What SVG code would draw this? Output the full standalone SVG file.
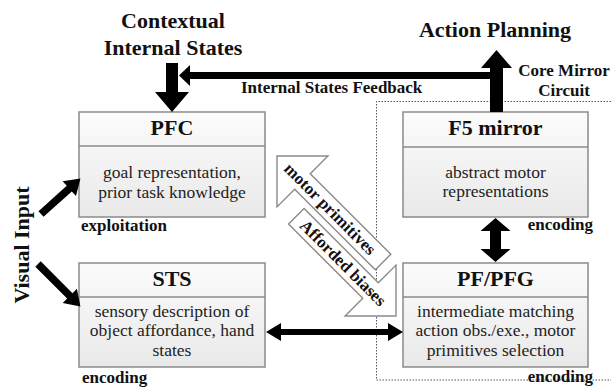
<svg xmlns="http://www.w3.org/2000/svg" width="611" height="391" viewBox="0 0 611 391" font-family="'Liberation Serif', 'Times New Roman', Tinos, 'DejaVu Serif', serif">
  <defs>
    <linearGradient id="boxFill" x1="0" y1="0" x2="0" y2="1">
      <stop offset="0" stop-color="#fcfcfc"/>
      <stop offset="1" stop-color="#e9e9e9"/>
    </linearGradient>
    <style>
      .box { fill: url(#boxFill); stroke: #8a8a8a; stroke-width: 1.5; }
      .div { stroke: #8a8a8a; stroke-width: 1.5; }
      .head { font-weight: bold; font-size: 22px; fill: #111; text-anchor: middle; }
      .body { font-size: 17.5px; fill: #222; text-anchor: middle; }
      .title { font-weight: bold; font-size: 22px; fill: #111; text-anchor: middle; }
      .lbl { font-weight: bold; font-size: 17px; fill: #111; }
      .solid { fill: #000; }
      .hollow { fill: #fff; stroke: #8a8a8a; stroke-width: 1.4; stroke-linejoin: miter; }
      .dots { fill: none; stroke: #555; stroke-width: 1; stroke-dasharray: 1.5 1.5; }
    </style>
  </defs>

  <rect width="611" height="391" fill="#fff"/>

  <!-- core mirror circuit region -->
  <path class="dots" d="M611 101.5 H376.5 V380"/>
  <path class="dots" d="M376.5 380 H611"/>

  <!-- titles and free labels -->
  <text class="title" x="173" y="28">Contextual</text>
  <text class="title" x="173" y="55">Internal States</text>
  <text class="title" x="495" y="37">Action Planning</text>
  <text class="lbl" x="564" y="76" text-anchor="middle">Core Mirror</text>
  <text class="lbl" x="564" y="96" text-anchor="middle">Circuit</text>
  <text class="lbl" x="241" y="93">Internal States Feedback</text>
  <text class="title" transform="translate(29,245) rotate(-90)" x="0" y="0">Visual Input</text>

  <!-- nodes -->
  <g id="pfc">
    <rect class="box" x="79" y="112" width="186" height="105"/>
    <line class="div" x1="79" y1="146" x2="265" y2="146"/>
    <text class="head" x="172" y="135">PFC</text>
    <text class="body" x="172" y="178">goal representation,</text>
    <text class="body" x="172" y="198">prior task knowledge</text>
    <text class="lbl" x="81" y="231">exploitation</text>
  </g>

  <g id="sts">
    <rect class="box" x="79" y="263" width="186" height="104"/>
    <line class="div" x1="79" y1="297" x2="265" y2="297"/>
    <text class="head" x="172" y="286">STS</text>
    <text class="body" x="172" y="317">sensory description of</text>
    <text class="body" x="172" y="336">object affordance, hand</text>
    <text class="body" x="172" y="356">states</text>
    <text class="lbl" x="82" y="383">encoding</text>
  </g>

  <g id="f5">
    <rect class="box" x="403" y="112" width="185" height="105"/>
    <line class="div" x1="403" y1="147" x2="588" y2="147"/>
    <text class="head" x="495.5" y="135">F5 mirror</text>
    <text class="body" x="495.5" y="178">abstract motor</text>
    <text class="body" x="495.5" y="197">representations</text>
    <text class="lbl" x="593" y="230" text-anchor="end">encoding</text>
  </g>

  <g id="pfpfg">
    <rect class="box" x="403" y="263" width="185" height="104"/>
    <line class="div" x1="403" y1="297" x2="588" y2="297"/>
    <text class="head" x="495.5" y="286">PF/PFG</text>
    <text class="body" x="495.5" y="317">intermediate matching</text>
    <text class="body" x="495.5" y="336">action obs./exe., motor</text>
    <text class="body" x="495.5" y="356">primitives selection</text>
    <text class="lbl" x="593" y="382" text-anchor="end">encoding</text>
  </g>

  <!-- connectors -->
  <g id="connectors">
    <!-- contextual states into PFC -->
    <polygon class="solid" points="166,63 178,63 178,92 189,92 172,112 155,92 166,92"/>
    <!-- internal states feedback from F5 -->
    <polygon class="solid" points="497,72 497,79 190,79 190,86 179,75.5 190,65 190,72"/>
    <!-- F5 up to action planning -->
    <polygon class="solid" points="490,112 490,68 481,68 496.5,50 512,68 503,68 503,112"/>
    <!-- visual input to PFC -->
    <g transform="translate(41,214) rotate(-41.9)">
      <polygon class="solid" points="0,-3.8 38,-3.8 38,-10 53,0 38,10 38,3.8 0,3.8"/>
    </g>
    <!-- visual input to STS -->
    <g transform="translate(38,264) rotate(45)">
      <polygon class="solid" points="0,-3.8 45,-3.8 45,-10 60,0 45,10 45,3.8 0,3.8"/>
    </g>
    <!-- STS <-> PF/PFG -->
    <polygon class="solid" points="266,332 281,323 281,329 388,329 388,323 403,332 388,341 388,335 281,335 281,341"/>
    <!-- F5 <-> PF/PFG -->
    <polygon class="solid" points="495.5,218 510.5,231 501,231 501,249 510.5,249 495.5,262 480.5,249 490,249 490,231 480.5,231"/>

    <!-- motor primitives (towards PFC) -->
    <g transform="translate(277,156) rotate(45)">
      <polygon class="hollow" points="0,0 36,-36 36,-11 150,-11 150,11 36,11 36,36"/>
    </g>
    <!-- afforded biases (towards PF/PFG) -->
    <g transform="translate(396,316) rotate(225)">
      <polygon class="hollow" points="0,0 36,-36 36,-11 141,-11 141,11 36,11 36,36"/>
    </g>
    <text class="lbl" transform="translate(330,209) rotate(45)" x="0" y="5.5" text-anchor="middle">motor primitives</text>
    <text class="lbl" transform="translate(343,263) rotate(45)" x="0" y="5.5" text-anchor="middle">Afforded biases</text>
  </g>
</svg>
